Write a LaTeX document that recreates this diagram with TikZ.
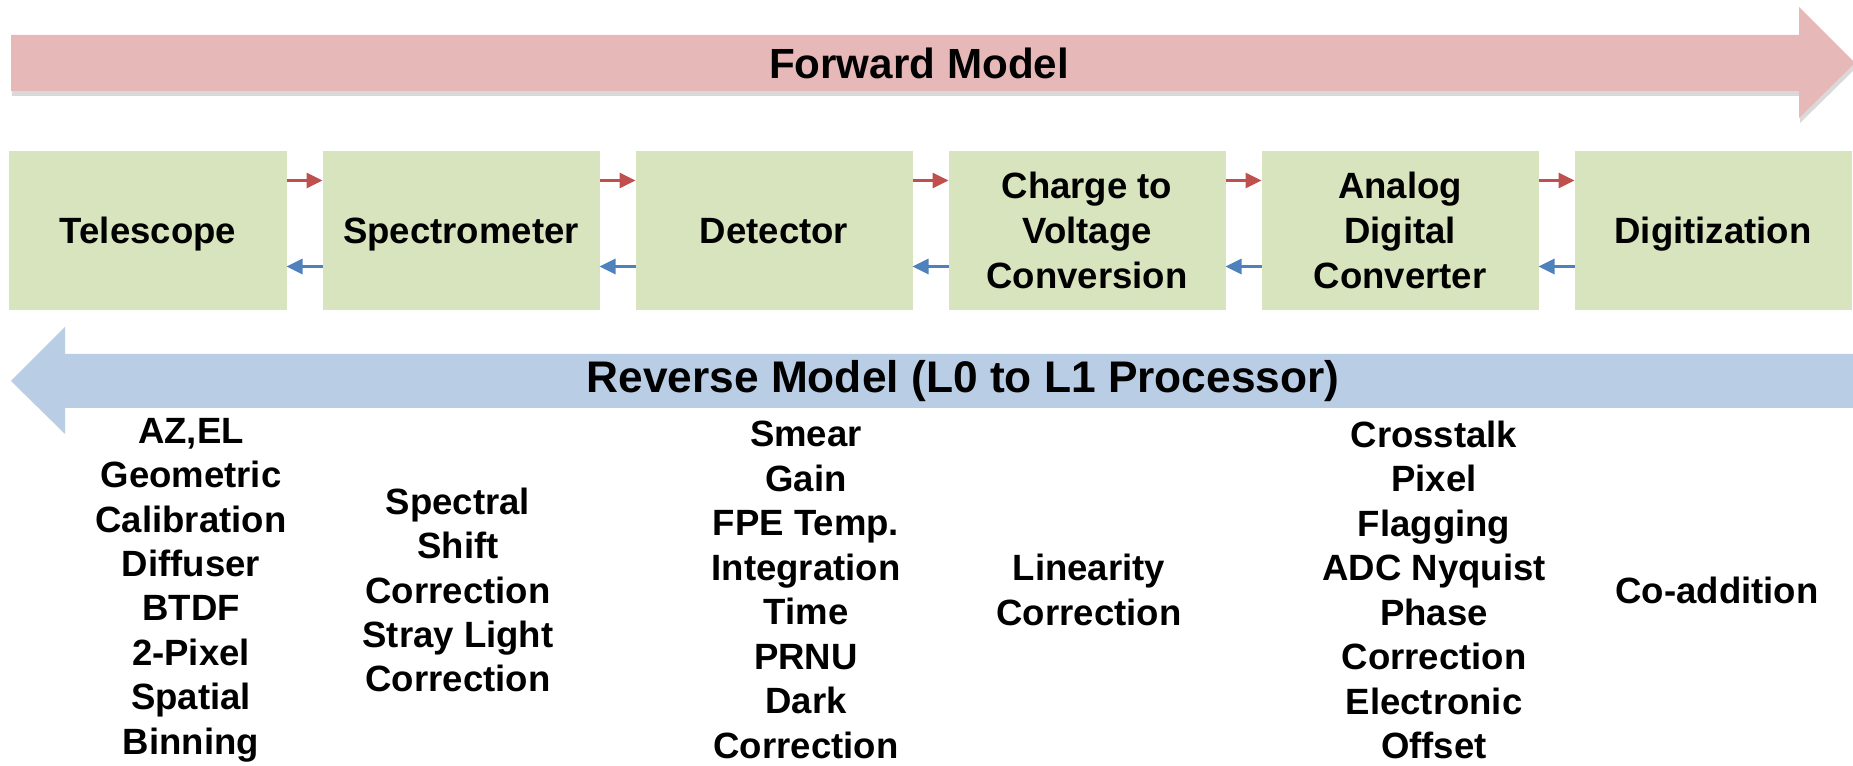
\documentclass[tikz,border=0pt]{standalone}
\usepackage{fontspec}
\setmainfont{Liberation Sans}
\usetikzlibrary{positioning,arrows.meta,shadows}
\definecolor{fwdpink}{HTML}{E6B8B7}
\definecolor{revblue}{HTML}{B9CDE5}
\definecolor{stagegreen}{HTML}{D7E4BD}
\definecolor{fwdred}{HTML}{C0504D}
\definecolor{revdark}{HTML}{4F81BD}

\begin{document}
\begin{tikzpicture}[node distance=0.36cm,
    stage/.style={fill=stagegreen,minimum width=2.77cm,minimum height=1.59cm,inner sep=0pt,outer sep=0pt,
      align=center,font=\fontsize{10.4}{12.7}\selectfont\bfseries},
    oneline/.style={text depth=0pt},
    steps/.style={align=center,inner sep=0pt,font=\fontsize{10.4}{12.65}\selectfont\bfseries},
    fwd/.style={draw=fwdred,line width=0.85pt,-{Triangle[length=0.16cm,width=0.15cm]}},
    rev/.style={draw=revdark,line width=0.85pt,-{Triangle[length=0.16cm,width=0.15cm]}}]
  \useasboundingbox (0,0) rectangle (18.53,-7.66);
  % big arrows
  \fill[fwdpink,drop shadow={shadow xshift=0.01cm,shadow yshift=-0.05cm,opacity=0.3}]
    (0.11,-0.35) -- (17.99,-0.35) -- (17.99,-0.07) -- (18.55,-0.63)
    -- (17.99,-1.18) -- (17.99,-0.91) -- (0.11,-0.91) -- cycle;
  \fill[revblue] (18.6,-3.54) -- (0.65,-3.54) -- (0.65,-3.27) -- (0.11,-3.81)
    -- (0.65,-4.34) -- (0.65,-4.08) -- (18.6,-4.08) -- cycle;
  \node[font=\fontsize{12}{14}\selectfont\bfseries] (fwdlabel) at (9.19,-0.63) {Forward Model};
  \node[font=\fontsize{12.6}{15}\selectfont\bfseries] (revlabel) at (9.63,-3.81) {Reverse Model (L0 to L1 Processor)};
  % stages
  \node[stage,oneline] (tel) at (1.48,-2.305) {Telescope};
  \node[stage,oneline] (spec) [right=of tel] {Spectrometer};
  \node[stage,oneline] (det) [right=of spec] {Detector};
  \node[stage] (chg) [right=of det] {Charge to\\Voltage\\Conversion};
  \node[stage] (adc) [right=of chg] {Analog\\Digital\\Converter};
  \node[stage,oneline] (dig) [right=of adc] {Digitization};
  \path
    ([yshift=0.5cm]tel.east) edge[fwd] ([yshift=0.5cm]spec.west)
    ([yshift=0.5cm]spec.east) edge[fwd] ([yshift=0.5cm]det.west)
    ([yshift=0.5cm]det.east) edge[fwd] ([yshift=0.5cm]chg.west)
    ([yshift=0.5cm]chg.east) edge[fwd] ([yshift=0.5cm]adc.west)
    ([yshift=0.5cm]adc.east) edge[fwd] ([yshift=0.5cm]dig.west);
  \path
    ([yshift=-0.36cm]spec.west) edge[rev] ([yshift=-0.36cm]tel.east)
    ([yshift=-0.36cm]det.west) edge[rev] ([yshift=-0.36cm]spec.east)
    ([yshift=-0.36cm]chg.west) edge[rev] ([yshift=-0.36cm]det.east)
    ([yshift=-0.36cm]adc.west) edge[rev] ([yshift=-0.36cm]chg.east)
    ([yshift=-0.36cm]dig.west) edge[rev] ([yshift=-0.36cm]adc.east);
  % processing steps
  \node[steps] (telsteps) at (1.91,-5.90) {AZ,EL\\Geometric\\Calibration\\Diffuser\\BTDF\\2-Pixel\\Spatial\\Binning};
  \node[steps] (specsteps) at (4.58,-5.90) {Spectral\\Shift\\Correction\\Stray Light\\Correction};
  \node[steps] (detsteps) at (8.06,-5.90) {Smear\\Gain\\FPE Temp.\\Integration\\Time\\PRNU\\Dark\\Correction};
  \node[steps] (chgsteps) at (10.89,-5.90) {Linearity\\Correction};
  \node[steps] (adcsteps) at (14.34,-5.90) {Crosstalk\\Pixel\\Flagging\\ADC Nyquist\\Phase\\Correction\\Electronic\\Offset};
  \node[steps] (digsteps) at (17.17,-5.90) {Co-addition};
\end{tikzpicture}
\end{document}
